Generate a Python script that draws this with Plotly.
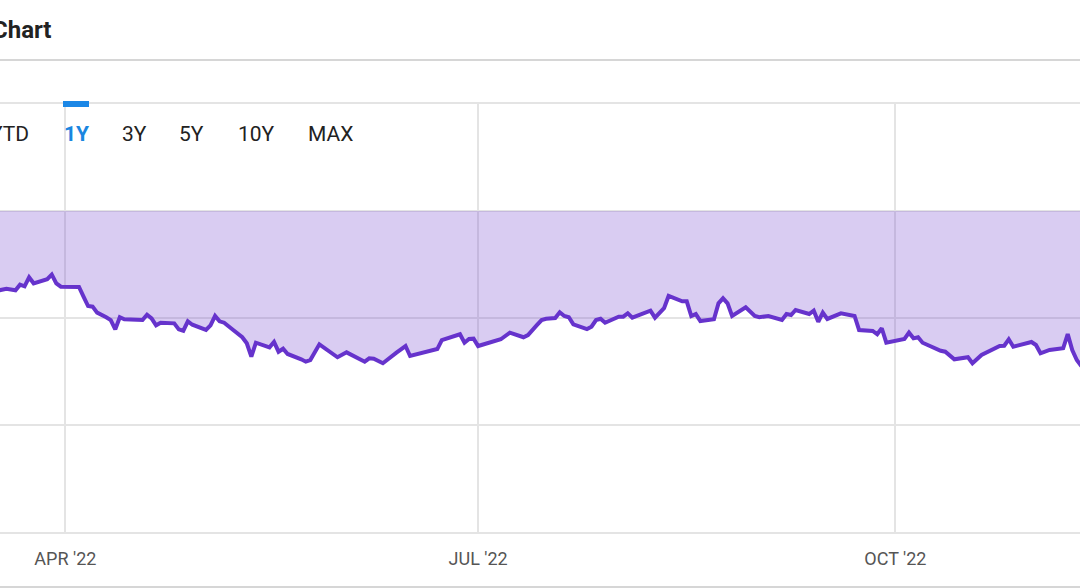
import plotly.graph_objects as go

# readings (date, value below the 0 line)
dates = [
    "2022-03-17", "2022-03-18", "2022-03-19", "2022-03-21", "2022-03-22", "2022-03-23",
    "2022-03-24", "2022-03-25", "2022-03-28", "2022-03-29", "2022-03-30", "2022-03-31",
    "2022-04-01", "2022-04-04", "2022-04-05", "2022-04-06", "2022-04-07", "2022-04-08",
    "2022-04-10", "2022-04-11", "2022-04-12", "2022-04-13", "2022-04-14", "2022-04-18",
    "2022-04-19", "2022-04-20", "2022-04-21", "2022-04-22", "2022-04-25", "2022-04-26",
    "2022-04-27", "2022-04-28", "2022-04-29", "2022-05-02", "2022-05-03", "2022-05-04",
    "2022-05-05", "2022-05-06", "2022-05-08", "2022-05-10", "2022-05-11", "2022-05-12",
    "2022-05-13", "2022-05-16", "2022-05-17", "2022-05-18", "2022-05-19", "2022-05-20",
    "2022-05-23", "2022-05-24", "2022-05-25", "2022-05-27", "2022-05-31", "2022-06-02",
    "2022-06-06", "2022-06-07", "2022-06-08", "2022-06-10", "2022-06-13", "2022-06-15",
    "2022-06-16", "2022-06-22", "2022-06-23", "2022-06-27", "2022-06-28", "2022-06-29",
    "2022-06-30", "2022-07-01", "2022-07-06", "2022-07-08", "2022-07-11", "2022-07-12",
    "2022-07-14", "2022-07-15", "2022-07-16", "2022-07-18", "2022-07-19", "2022-07-20",
    "2022-07-21", "2022-07-22", "2022-07-25", "2022-07-26", "2022-07-27", "2022-07-28",
    "2022-07-29", "2022-08-01", "2022-08-02", "2022-08-03", "2022-08-04", "2022-08-08",
    "2022-08-09", "2022-08-11", "2022-08-12", "2022-08-15", "2022-08-16", "2022-08-17",
    "2022-08-18", "2022-08-19", "2022-08-22", "2022-08-23", "2022-08-24", "2022-08-25",
    "2022-08-26", "2022-08-29", "2022-08-31", "2022-09-01", "2022-09-03", "2022-09-06",
    "2022-09-07", "2022-09-08", "2022-09-09", "2022-09-12", "2022-09-13", "2022-09-14",
    "2022-09-15", "2022-09-16", "2022-09-19", "2022-09-22", "2022-09-23", "2022-09-26",
    "2022-09-27", "2022-09-28", "2022-09-29", "2022-10-03", "2022-10-04", "2022-10-05",
    "2022-10-06", "2022-10-07", "2022-10-11", "2022-10-12", "2022-10-14", "2022-10-17",
    "2022-10-18", "2022-10-20", "2022-10-24", "2022-10-25", "2022-10-26", "2022-10-27",
    "2022-10-31", "2022-11-01", "2022-11-02", "2022-11-04", "2022-11-07", "2022-11-08",
    "2022-11-09", "2022-11-10", "2022-11-11",
]
values = [
    -7.45, -7.38, -7.26, -7.41, -6.89, -7.04,
    -6.20, -6.76, -6.38, -5.95, -6.76, -7.07,
    -7.10, -7.10, -8.01, -8.88, -8.94, -9.50,
    -9.93, -10.19, -11.06, -9.93, -10.12, -10.19,
    -9.69, -10.03, -10.68, -10.44, -10.50, -11.06,
    -11.19, -10.31, -10.63, -11.12, -10.68, -9.81,
    -10.31, -10.44, -11.12, -11.80, -12.36, -13.62,
    -12.31, -12.74, -12.24, -13.15, -12.87, -13.36,
    -13.86, -14.08, -13.93, -12.46, -13.67, -13.21,
    -14.08, -13.77, -13.80, -14.23, -13.24, -12.62,
    -13.55, -12.90, -12.06, -11.52, -12.31, -11.96,
    -11.93, -12.62, -11.99, -11.37, -11.80, -11.59,
    -10.65, -10.19, -10.07, -10.00, -9.47, -9.81,
    -9.93, -10.59, -11.03, -10.81, -10.19, -10.07,
    -10.44, -9.88, -9.88, -9.56, -9.97, -9.32,
    -9.97, -9.09, -7.94, -8.44, -8.44, -9.81,
    -9.63, -10.28, -10.12, -8.63, -8.16, -8.63,
    -9.81, -9.00, -9.81, -9.93, -9.81, -10.19,
    -9.63, -9.72, -9.25, -9.63, -9.32, -10.35,
    -9.50, -10.09, -9.56, -9.81, -11.12, -11.21,
    -11.52, -10.96, -12.31, -11.96, -11.37, -11.90,
    -11.80, -12.31, -13.06, -13.15, -13.86, -13.67,
    -14.23, -13.46, -12.62, -12.59, -11.99, -12.68,
    -12.24, -12.52, -13.30, -12.99, -12.83, -11.50,
    -12.99, -13.93, -14.50,
]

tick_dates = ["2022-04-01", "2022-07-01", "2022-10-01"]
tick_text = ["APR '22", "JUL '22", "OCT '22"]
range_buttons = ["YTD", "1Y", "3Y", "5Y", "10Y", "MAX"]
button_x = [31, 76, 134, 191, 256, 330]  # pixel centres (YTD: right edge)

fig = go.Figure()
fig.add_trace(go.Scatter(
    x=dates, y=values, mode="lines", fill="tozeroy",
    line=dict(color="#6633cc", width=4),
    fillcolor="rgba(102,51,204,0.25)",
    hoverinfo="skip",
))

W, H = 1080, 588
top, bottom = 104, 532
def py(p):  # pixel row -> paper y
    return (bottom - p) / (bottom - top)

# title and range selector drawn as text
fig.add_annotation(text="<b>Chart</b>", x=53 / W, y=py(30), xref="paper", yref="paper",
                   xanchor="right", yanchor="middle", showarrow=False,
                   font=dict(family="Roboto", size=24, color="#222222"))
for lbl, bx in zip(range_buttons, button_x):
    active = lbl == "1Y"
    fig.add_annotation(
        text=f"<b>{lbl}</b>" if active else lbl,
        x=bx / W, y=py(134), xref="paper", yref="paper",
        xanchor="right" if lbl == "YTD" else "center", yanchor="middle", showarrow=False,
        font=dict(family="Roboto", size=21, color="#1a86e0" if active else "#222222"),
    )

fig.update_layout(
    width=W, height=H,
    margin=dict(l=0, r=0, t=top, b=H - bottom),
    paper_bgcolor="white", plot_bgcolor="white",
    showlegend=False,
    shapes=[
        dict(type="line", xref="paper", yref="paper", x0=0, x1=1, y0=py(60), y1=py(60),
             line=dict(color="#c8c8c8", width=1.5)),
        dict(type="line", xref="paper", yref="paper", x0=0, x1=1, y0=py(587), y1=py(587),
             line=dict(color="#c8c8c8", width=1.5)),
        dict(type="rect", xref="paper", yref="paper", x0=63 / W, x1=89 / W, y0=py(107), y1=py(101),
             fillcolor="#1b87e6", line=dict(width=0)),
    ],
)
fig.update_xaxes(
    range=["2022-03-17 14:00", "2022-11-10 17:00"],
    tickvals=tick_dates, ticktext=tick_text,
    showgrid=True, gridcolor="#e4e4e4", gridwidth=2,
    showline=True, mirror=True, linecolor="#e4e4e4", linewidth=2,
    ticks="", ticklabelstandoff=9,
    tickfont=dict(family="Roboto", size=18, color="#555555"),
)
fig.update_yaxes(
    range=[-30, 10], dtick=10, showticklabels=False,
    showgrid=True, gridcolor="#e4e4e4", gridwidth=2, zeroline=False,
)

fig.write_html("out.html", config={"displayModeBar": False},
               post_script="document.body.style.margin='0';")
